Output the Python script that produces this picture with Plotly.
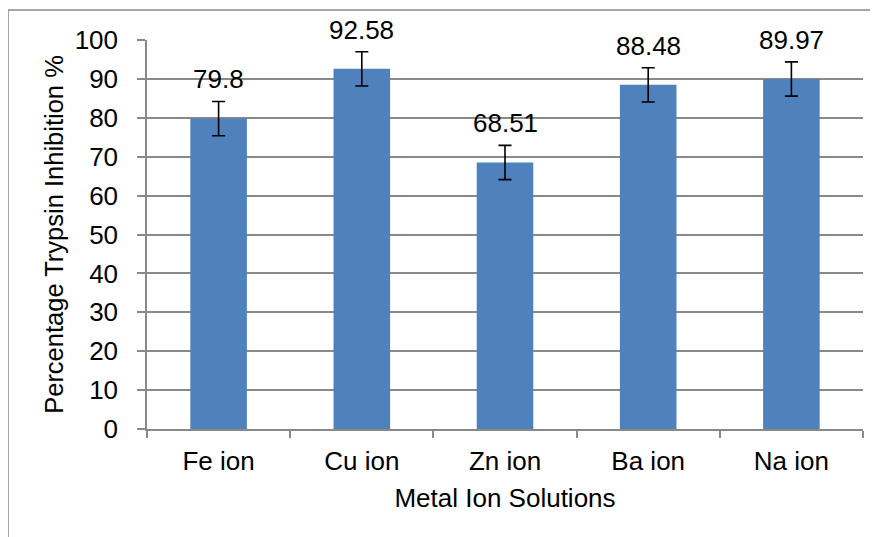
import plotly.graph_objects as go

categories = ["Fe ion", "Cu ion", "Zn ion", "Ba ion", "Na ion"]
inhibition = [79.8, 92.58, 68.51, 88.48, 89.97]
errors = [4.4, 4.4, 4.4, 4.4, 4.4]
labels = ["79.8", "92.58", "68.51", "88.48", "89.97"]
y_ticks = [0, 10, 20, 30, 40, 50, 60, 70, 80, 90, 100]

FONT = "Liberation Sans, Arial, sans-serif"
FS = 26
GRID = "#898989"

fig = go.Figure()
fig.add_trace(go.Bar(
    x=categories, y=inhibition,
    marker=dict(color="#4F81BD", line=dict(width=0)),
    error_y=dict(type="data", array=errors, visible=True, color="black", thickness=1.6, width=6.5),
    showlegend=False,
))

for c, v, e, t in zip(categories, inhibition, errors, labels):
    fig.add_annotation(x=c, y=v + e, text=t, showarrow=False, yanchor="bottom", yshift=5,
                       font=dict(family=FONT, size=FS, color="black"))

# figure is drawn with an 8px page offset; work in figure coordinates
W, H = 870, 529
pl, pr, pt, pb = 139, 855, 32, 421
L, T = 0, 2
fx = lambda px: (px - pl) / (pr - pl)
fy = lambda py: (pb - py) / (pb - pt)
for x0, y0, x1, y1 in [(L, T, W, T), (L, T, L, H)]:
    fig.add_shape(type="line", xref="paper", yref="paper", x0=fx(x0), y0=fy(y0), x1=fx(x1), y1=fy(y1),
                  line=dict(color=GRID, width=1.5))

fig.update_layout(
    width=W, height=H,
    margin=dict(l=pl, r=W - pr, t=pt, b=H - pb),
    paper_bgcolor="white", plot_bgcolor="white",
    font=dict(family=FONT, size=FS, color="black"),
    bargap=0.605,
    xaxis=dict(
        title=dict(text="Metal Ion Solutions", font=dict(size=FS), standoff=14),
        showline=True, linecolor=GRID, linewidth=1.5,
        ticks="outside", tickson="boundaries", ticklen=7, tickcolor=GRID, tickwidth=1.5,
        showgrid=False, ticklabelstandoff=8,
    ),
    yaxis=dict(
        title=dict(text="Percentage Trypsin Inhibition %", font=dict(size=25.5), standoff=4),
        range=[0, 100], tickvals=y_ticks,
        showline=True, linecolor=GRID, linewidth=1.5,
        ticks="outside", ticklen=8, tickcolor=GRID, tickwidth=1.5,
        showgrid=True, gridcolor=GRID, gridwidth=1.5,
        zeroline=False, ticklabelstandoff=14,
    ),
)

fig.write_html("out.html")
